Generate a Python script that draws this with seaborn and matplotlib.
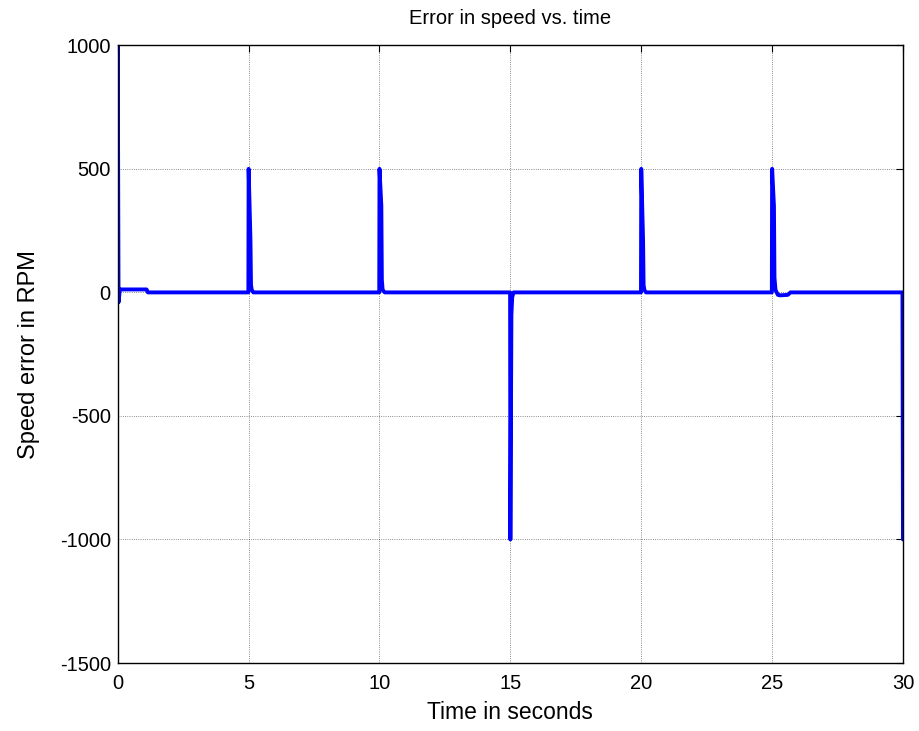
import seaborn as sns
import matplotlib.pyplot as plt
import pandas as pd

# speed error trace (seconds, RPM)
time_s = [0.0, 0.0, 0.03, 0.08, 1.1, 1.15,
          4.99, 5.0, 5.07, 5.09, 5.12, 5.18,
          9.99, 10.0, 10.07, 10.09, 10.12, 10.2,
          14.99, 15.0, 15.04, 15.07, 15.12,
          19.99, 20.0, 20.07, 20.09, 20.12, 20.18,
          24.99, 25.0, 25.07, 25.09, 25.13, 25.22, 25.3, 25.6, 25.7,
          29.98, 30.0]
error_rpm = [-40, 1000, -40, 12, 12, 0,
             0, 500, 210, 30, 10, 0,
             0, 500, 350, 50, 10, 0,
             0, -1000, -90, -20, 0,
             0, 500, 210, 30, 10, 0,
             0, 500, 350, 60, 10, -10, -12, -10, 0,
             0, -1000]

xticks = [0, 5, 10, 15, 20, 25, 30]
yticks = [-1500, -1000, -500, 0, 500, 1000]

df = pd.DataFrame({'t': time_s, 'err': error_rpm})

sns.set_style('white')
plt.rcParams['font.family'] = ['Liberation Sans', 'DejaVu Sans']
plt.rcParams['axes.unicode_minus'] = False
plt.rcParams['text.color'] = 'black'
plt.rcParams['axes.labelcolor'] = 'black'
plt.rcParams['xtick.color'] = 'black'
plt.rcParams['ytick.color'] = 'black'

fig = plt.figure(figsize=(9.2, 7.31), dpi=100)
ax = fig.add_axes([0.128, 0.093, 0.8535, 0.845])
sns.lineplot(data=df, x='t', y='err', sort=False, estimator=None,
             color='#0000ff', linewidth=2.8, ax=ax)

ax.set_xlim(0, 30)
ax.set_ylim(-1500, 1000)
ax.set_xticks(xticks)
ax.set_yticks(yticks)
ax.grid(True, color='black', linestyle=':', linewidth=0.6, alpha=0.6)
ax.tick_params(direction='in', top=True, right=True, length=5,
               labelsize=14.5, pad=5)
ax.tick_params(axis='x', pad=8)
for s in ax.spines.values():
    s.set_color('black')
    s.set_linewidth(1.0)
ax.set_title('Error in speed vs. time', fontsize=14.5, pad=15)
ax.set_xlabel('Time in seconds', fontsize=16.5, labelpad=6)
ax.set_ylabel('Speed error in RPM', fontsize=17, labelpad=14)

fig.savefig('out.png', dpi=100)
